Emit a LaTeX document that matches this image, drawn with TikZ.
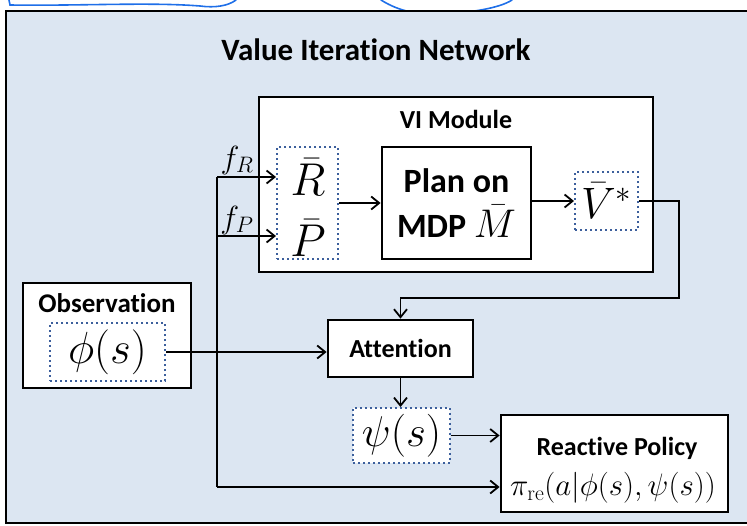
\RequirePackage{fix-cm}
\documentclass[tikz,border=0pt]{standalone}
\usepackage{fontspec}
\setsansfont{Carlito}[Ligatures=NoCommon]
\usepackage{amsmath}
\usetikzlibrary{arrows.meta, positioning, calc}
\definecolor{panelblue}{HTML}{DCE6F2}
\definecolor{dotblue}{HTML}{3C5F9C}
\definecolor{inkblue}{HTML}{1F6FE8}
\tikzset{
  box/.style={draw=black, line width=2.8pt, fill=white, inner sep=0pt},
  dotbox/.style={draw=dotblue, line width=2pt, dash pattern=on 2pt off 3pt, fill=white, inner sep=0pt},
  lbl/.style={font=\sffamily\bfseries\fontsize{26}{30}\selectfont},
  sym/.style={inner sep=0pt, font=\fontsize{#1}{#1}\selectfont},
  wire/.style={line width=1.8pt},
  flow/.style={line width=1.8pt, -{Straight Barb[length=8pt, width=13pt]}},
}

\begin{document}
\begin{tikzpicture}[x=1pt, y=-1pt]
    \useasboundingbox (0,0) rectangle (747,525);
    \clip (0,0) rectangle (747,525);
    % Hand-drawn marks along the top edge
    \draw[inkblue, line width=1.6pt, line cap=round] (9,0) -- (10,5) .. controls (80,6) and (150,2) .. (200,6) .. controls (215,8) and (228,6) .. (236,0);
    \draw[inkblue, line width=1.6pt, line cap=round] (381,0) .. controls (400,12) and (420,15) .. (440,14) .. controls (470,13) and (500,8) .. (512,0);
    % Outer panel
    \draw[line width=2.4pt, fill=panelblue] (6,11) rectangle (760,523);
    \node[font=\sffamily\bfseries\fontsize{31}{34}\selectfont] (title) at (376,50) {Value Iteration Network};
    % VI module
    \node[box, minimum width=394, minimum height=175] (vimod) at (456,184.5) {};
    \node[lbl] (vilabel) at (456,119) {VI Module};
    \node[dotbox, minimum width=61, minimum height=112] (rp) at (307.5,203) {};
    \node[sym=46] (rbar) at (308,177) {$\bar R$};
    \node[sym=46] (pbar) at (308,238) {$\bar P$};
    \node[box, minimum width=149, minimum height=112, align=center, font=\sffamily\bfseries\fontsize{34}{45}\selectfont] (plan) at (456.5,203) {Plan on\\MDP~{\fontsize{40}{45}\selectfont$\bar M$}};
    \node[dotbox, minimum width=63, minimum height=58, font=\fontsize{44}{44}\selectfont] (vstar) at (606.5,201) {$\bar V^*$};
    % Observation, attention, policy
    \node[box, minimum width=168, minimum height=105] (obs) at (107,335.5) {};
    \node[lbl, font=\sffamily\bfseries\fontsize{27}{30}\selectfont] (obslabel) at (107,303) {Observation};
    \node[dotbox, minimum width=115, minimum height=58, font=\fontsize{45}{45}\selectfont] (phi) at (107.5,352) {$\phi(s)$};
    \node[box, lbl, minimum width=145, minimum height=57] (att) at (400.5,348.5) {Attention};
    \node[dotbox, minimum width=97, minimum height=55, font=\fontsize{43}{43}\selectfont] (psi) at (401.5,435.5) {$\psi(s)$};
    \node[box, minimum width=227, minimum height=97] (react) at (614.5,463.5) {};
    \node[lbl] (reactlabel) at (617,448) {Reactive Policy};
    \node[sym=31] (pi) at (613,488) {$\pi_{\mathrm{re}}(a|\phi(s),\psi(s))$};
    % Feature labels
    \node[sym=32] (fr) at (237,160) {$f_R$};
    \node[sym=32] (fp) at (237,220) {$f_P$};
    % Connectors
    \coordinate (trunktop) at (217,177);
    \coordinate (trunkmid) at (217,236);
    \coordinate (trunkbot) at (217,487);
    \coordinate (turn) at (679,298);
    \draw[wire] (trunktop) -- (trunkbot);
    \foreach \tap in {trunktop,trunkmid} {
      \draw[flow] (\tap) -- (rp.west |- \tap);
    }
    \draw[flow] (trunkbot) -- (react.west |- trunkbot);
    \draw[flow] (phi.east) -- (att.west |- phi.east);
    \draw[flow] (rp.east) -- (plan.west |- rp.east);
    \draw[flow] (vstar.west -| plan.east) -- (vstar.west);
    \draw[flow] (vstar.east) -| (turn) -| (att.north);
    \draw[flow] (att.south) -- (att.south |- psi.north);
    \draw[flow] (psi.east) -- (react.west |- psi.east);
\end{tikzpicture}
\end{document}
